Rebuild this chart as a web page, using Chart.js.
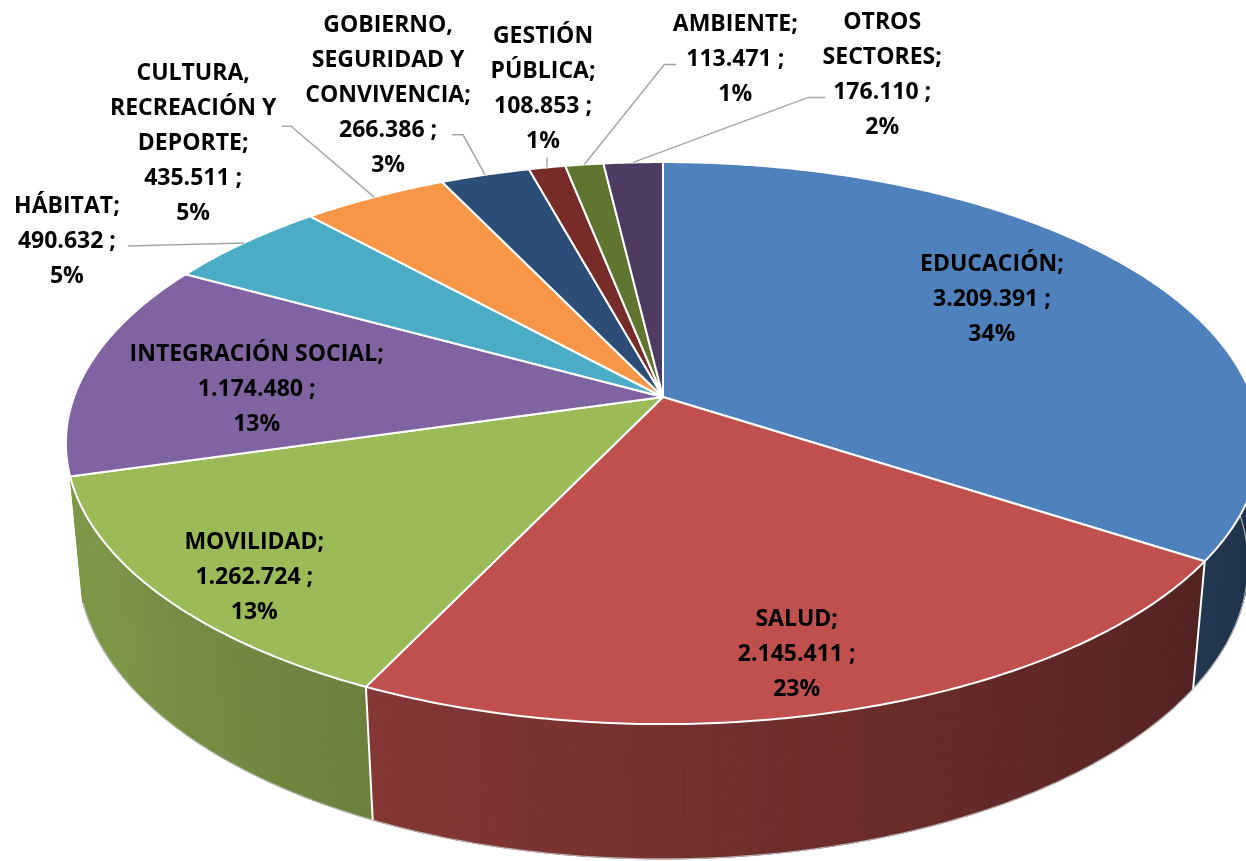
<!DOCTYPE html>
<html>
<head>
<meta charset="utf-8">
<script src="https://cdn.jsdelivr.net/npm/chart.js@4/dist/chart.umd.min.js"></script>
<style>
  html, body { margin: 0; padding: 0; background: #fff; }
  #wrap { width: 1246px; height: 861px; }
</style>
</head>
<body>
<div id="wrap"><canvas id="graf"></canvas></div>
<script>
// sectores (los saltos de línea son los de las etiquetas del original)
const sectores = ['EDUCACIÓN', 'SALUD', 'MOVILIDAD', 'INTEGRACIÓN SOCIAL', 'HÁBITAT',
  'CULTURA,\nRECREACIÓN Y\nDEPORTE', 'GOBIERNO,\nSEGURIDAD Y\nCONVIVENCIA', 'GESTIÓN\nPÚBLICA',
  'AMBIENTE', 'OTROS\nSECTORES']
const valores = [3209391, 2145411, 1262724, 1174480, 490632, 435511, 266386, 108853, 113471, 176110]
const colores = ['#4F81BD', '#C0504D', '#9BBB59', '#8064A2', '#4BACC6',
  '#F79646', '#2C4D75', '#772C2A', '#5F7530', '#4D3B62']

// donde va cada etiqueta: dentro (desplazada desde el punto al 60% del radio)
// o fuera, con su línea guía desde el borde
const posEtiquetas = [
  { dentro: true, dx: 32, dy: -23 },
  { dentro: true, dx: 28, dy: 83 },
  { dentro: true, dx: -121, dy: 67 },
  { dentro: true, dx: -59, dy: 11 },
  { dx: -177, dy: -1, codo: [-116, 3], fin: [-116, 3] },
  { dx: -181, dy: -54, codo: [-83, -71], fin: [-92, -71] },
  { dx: -97, dy: -79, codo: [-22, -40], fin: [-33, -40] },
  { dx: -4, dy: -78, codo: [0, -10], fin: [0, -10] },
  { dx: 151, dy: -105, codo: [80, -100], fin: [92, -100] },
  { dx: 249, dy: -87, codo: [175, -65], fin: [192, -65] }
]

const PERSP = 0.164, TILT = 0.4643, GROSOR = 0.207, FUGA = 0.02
const LINEA = 35
const FUENTE = 'bold 23px "Open Sans"'

function proyectar(x0, y0, r, ang, f, z) {
  const u = f * Math.cos(ang), v = f * Math.sin(ang)
  const w = 1 - PERSP * v + z * FUGA
  return [x0 + r * u / w, y0 + r * (TILT * v + z * GROSOR) / w]
}

function sombra(hex, ang) {
  let g = ((ang + Math.PI / 2) * 180 / Math.PI) % 360
  if (g < 0) g += 360
  const k = 0.4 + 0.4 * Math.min(1, Math.max(0, (g - 115) / 125))
  const n = parseInt(hex.slice(1), 16)
  const r = Math.round(((n >> 16) & 255) * k), gg = Math.round(((n >> 8) & 255) * k), b = Math.round((n & 255) * k)
  return 'rgb(' + r + ',' + gg + ',' + b + ')'
}

function miles(v) {
  return String(v).replace(/\B(?=(\d{3})+(?!\d))/g, '.')
}

// la pared se ve por delante; por la izquierda el contorno empieza en el borde del sector
function paredVisible(t) {
  const s = Math.sin(t)
  if (Math.cos(t) < 0) return s > 0.28
  return s > -0.6
}

const pastel3d = {
  id: 'pastel3d',
  beforeDatasetsDraw(chart) {
    const ctx = chart.ctx
    const arcos = chart.getDatasetMeta(0).data
    const fondo = chart.data.datasets[0].backgroundColor
    const { x, y, outerRadius: r } = arcos[0]
    ctx.save()
    // paredes laterales, de atrás hacia delante
    const trozos = []
    arcos.forEach((a, i) => {
      const n = Math.max(2, Math.ceil((a.endAngle - a.startAngle) / 0.01))
      for (let k = 0; k < n; k++) {
        const t1 = a.startAngle + (a.endAngle - a.startAngle) * k / n
        const t2 = a.startAngle + (a.endAngle - a.startAngle) * (k + 1) / n
        const tm = (t1 + t2) / 2
        if (!paredVisible(tm)) continue
        trozos.push({ i, t1, t2, tm })
      }
    })
    trozos.sort((p, q) => Math.sin(p.tm) - Math.sin(q.tm))
    ctx.lineWidth = 1
    trozos.forEach(q => {
      const p1 = proyectar(x, y, r, q.t1, 1, 0), p2 = proyectar(x, y, r, q.t2, 1, 0)
      const p3 = proyectar(x, y, r, q.t2, 1, 1), p4 = proyectar(x, y, r, q.t1, 1, 1)
      ctx.fillStyle = ctx.strokeStyle = sombra(fondo[q.i], q.tm)
      ctx.beginPath()
      ctx.moveTo(p1[0], p1[1]); ctx.lineTo(p2[0], p2[1]); ctx.lineTo(p3[0], p3[1]); ctx.lineTo(p4[0], p4[1])
      ctx.closePath()
      ctx.fill(); ctx.stroke()
    })
    // borde inferior
    ctx.strokeStyle = 'rgba(190,190,190,0.9)'
    ctx.lineWidth = 1.2
    ctx.beginPath()
    let primero = true
    for (let t = -0.3; t <= Math.PI; t += 0.01) {
      if (!paredVisible(t)) continue
      const p = proyectar(x, y, r, t, 1, 1)
      if (primero) { ctx.moveTo(p[0], p[1]); primero = false } else ctx.lineTo(p[0], p[1])
    }
    ctx.stroke()
    // aristas verticales entre sectores
    ctx.strokeStyle = '#fff'
    ctx.lineWidth = 2
    arcos.forEach(a => {
      if (Math.sin(a.startAngle) <= 0.3) return
      const p1 = proyectar(x, y, r, a.startAngle, 1, 0), p2 = proyectar(x, y, r, a.startAngle, 1, 1)
      ctx.beginPath(); ctx.moveTo(p1[0], p1[1]); ctx.lineTo(p2[0], p2[1]); ctx.stroke()
    })
    // caras superiores
    ctx.lineJoin = 'round'
    arcos.forEach((a, i) => {
      const n = Math.max(2, Math.ceil((a.endAngle - a.startAngle) / 0.01))
      ctx.beginPath()
      ctx.moveTo(x, y)
      for (let k = 0; k <= n; k++) {
        const t = a.startAngle + (a.endAngle - a.startAngle) * k / n
        const p = proyectar(x, y, r, t, 1, 0)
        ctx.lineTo(p[0], p[1])
      }
      ctx.closePath()
      ctx.fillStyle = fondo[i]
      ctx.fill()
      ctx.strokeStyle = '#fff'
      ctx.lineWidth = 2
      ctx.stroke()
    })
    ctx.restore()
    return false
  },
  afterDraw(chart) {
    const ctx = chart.ctx
    const arcos = chart.getDatasetMeta(0).data
    const total = valores.reduce((s, v) => s + v, 0)
    ctx.save()
    ctx.font = FUENTE
    ctx.textAlign = 'center'
    ctx.textBaseline = 'middle'
    arcos.forEach((a, i) => {
      const cfg = posEtiquetas[i]
      const { x, y, outerRadius: r } = a
      const medio = (a.startAngle + a.endAngle) / 2
      const lineas = (sectores[i] + ';').split('\n')
      lineas.push(miles(valores[i]) + ' ;', Math.round(valores[i] / total * 100) + '%')
      let cx, cy
      if (cfg.dentro) {
        const p = proyectar(x, y, r, medio, 0.6, 0)
        cx = p[0] + cfg.dx; cy = p[1] + cfg.dy
      } else {
        const b = proyectar(x, y, r, medio, 1, 0)
        cx = b[0] + cfg.dx; cy = b[1] + cfg.dy
        ctx.strokeStyle = '#A6A6A6'
        ctx.lineWidth = 1.5
        ctx.beginPath()
        ctx.moveTo(b[0], b[1])
        ctx.lineTo(b[0] + cfg.codo[0], b[1] + cfg.codo[1])
        ctx.lineTo(b[0] + cfg.fin[0], b[1] + cfg.fin[1])
        ctx.stroke()
      }
      ctx.fillStyle = '#000'
      lineas.forEach((t, k) => {
        ctx.fillText(t, cx, cy + (k - (lineas.length - 1) / 2) * LINEA)
      })
    })
    ctx.restore()
  }
}

new Chart(document.getElementById('graf'), {
  type: 'pie',
  data: {
    labels: sectores.map(s => s.replace(/\n/g, ' ')),
    datasets: [{
      data: valores,
      backgroundColor: colores,
      borderColor: '#fff',
      borderWidth: 2
    }]
  },
  options: {
    responsive: true,
    maintainAspectRatio: false,
    animation: false,
    radius: 589,
    layout: { padding: { left: 80, right: 0, top: 0, bottom: 67 } },
    plugins: {
      legend: { display: false },
      tooltip: { enabled: false }
    }
  },
  plugins: [pastel3d]
})
</script>
</body>
</html>
